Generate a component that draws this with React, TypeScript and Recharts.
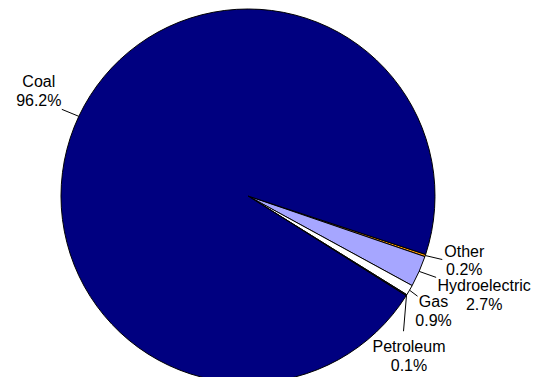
import React from 'react';
import { PieChart, Pie, Cell } from 'recharts';

const categories = ['Other', 'Hydroelectric', 'Gas', 'Petroleum', 'Coal'];
const shares = [0.2, 2.7, 0.9, 0.1, 96.2];

const colors: Record<string, string> = {
  Other: '#FF9900',
  Hydroelectric: '#A6A6FF',
  Gas: '#FFFFFF',
  Petroleum: '#202020',
  Coal: '#000080',
};

// leader line end offset from the slice edge point, and text offset from line end
const labelLayout: Record<string, { lx: number; ly: number; tx: number; ty: number }> = {
  Coal: { lx: -17, ly: -7, tx: -23, ty: -22 },
  Other: { lx: 17, ly: 4, tx: 22, ty: -3 },
  Hydroelectric: { lx: 17, ly: 6, tx: 48, ty: 14 },
  Gas: { lx: 8, ly: 6, tx: 16, ty: 11 },
  Petroleum: { lx: -3, ly: 36, tx: 5.5, ty: 21 },
};

const data = categories.map((name, i) => ({ name, value: shares[i] }));

const RADIAN = Math.PI / 180;
const LINE_H = 18.5;

const renderLabel = (props: any) => {
  const { cx, cy, midAngle, outerRadius, name, value } = props;
  const sx = cx + outerRadius * Math.cos(-midAngle * RADIAN);
  const sy = cy + outerRadius * Math.sin(-midAngle * RADIAN);
  const lay = labelLayout[name];
  const ex = sx + lay.lx;
  const ey = sy + lay.ly;
  const tx = ex + lay.tx;
  const ty = ey + lay.ty;
  return (
    <g>
      <line x1={sx} y1={sy} x2={ex} y2={ey} stroke="#000" strokeWidth={1} />
      <text
        x={tx}
        y={ty}
        textAnchor="middle"
        fontFamily="'Liberation Sans', Arial, sans-serif"
        fontSize={16}
        fill="#000"
      >
        {name}
      </text>
      <text
        x={tx}
        y={ty + LINE_H}
        textAnchor="middle"
        fontFamily="'Liberation Sans', Arial, sans-serif"
        fontSize={16}
        fill="#000"
      >
        {`${Number(value).toFixed(1)}%`}
      </text>
    </g>
  );
};

export default function App() {
  return (
    <div style={{ position: 'fixed', left: 0, top: 0, width: 543, height: 377, background: '#fff' }}>
      <PieChart width={543} height={377} margin={{ top: 0, right: 0, bottom: 0, left: 0 }}>
        <Pie
          data={data}
          dataKey="value"
          nameKey="name"
          cx={248}
          cy={196}
          outerRadius={187}
          startAngle={-18.2}
          endAngle={-378.2}
          stroke="#000"
          strokeWidth={1}
          label={renderLabel}
          labelLine={false}
          isAnimationActive={false}
        >
          {data.map((d) => (
            <Cell key={d.name} fill={colors[d.name]} />
          ))}
        </Pie>
      </PieChart>
    </div>
  );
}
